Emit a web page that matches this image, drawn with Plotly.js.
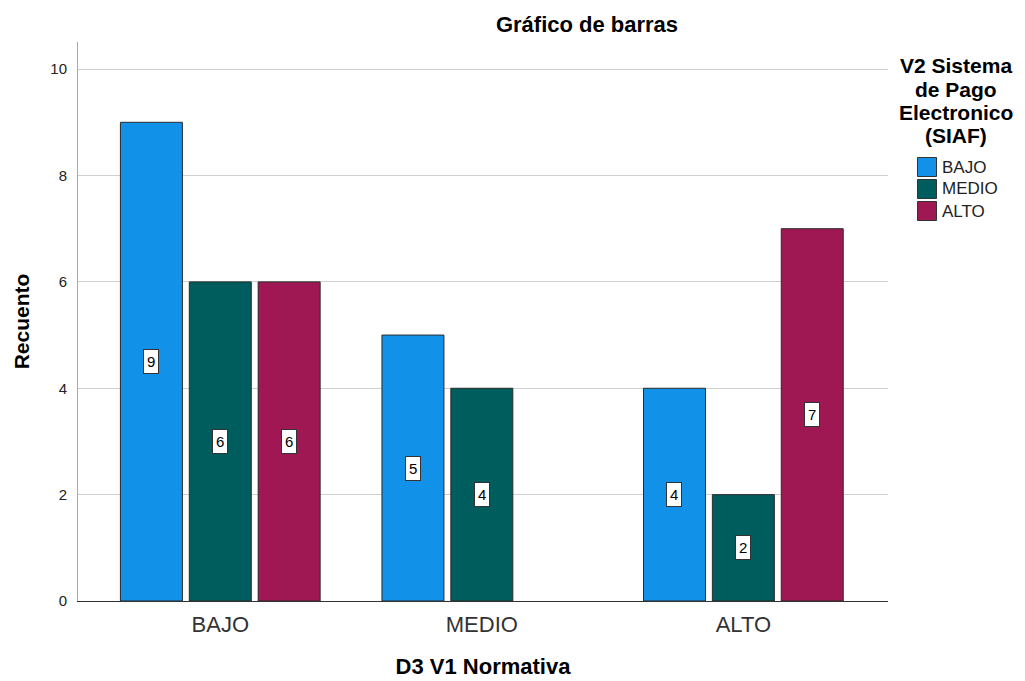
<!DOCTYPE html>
<html><head><meta charset="utf-8">
<script src="https://cdn.plot.ly/plotly-3.0.1.min.js"></script>
<style>body{margin:0;background:#fff}#c{width:1025px;height:681px}</style>
</head><body><div id="c"></div>
<script>
var categories = ['BAJO', 'MEDIO', 'ALTO'];
var seriesNames = ['BAJO', 'MEDIO', 'ALTO'];
var bajoValues = [9, 5, 4];
var medioValues = [6, 4, 2];
var altoValues = [6, null, 7];
var colors = ['#1192e8', '#005d5d', '#9f1853'];
var legendTitleLines = ['V2 Sistema', 'de Pago', 'Electronico', '(SIAF)'];

var FONT = 'Liberation Sans, Arial, sans-serif';
var L = 78, R = 888, T = 42, B = 601;
function px2x(p) { return (p - L) / (R - L); }
function px2y(p) { return (B - p) / (B - T); }

var allValues = [bajoValues, medioValues, altoValues];
var traces = allValues.map(function (vals, j) {
  return {
    type: 'bar', name: seriesNames[j], x: categories, y: vals,
    marker: {color: colors[j], line: {color: '#2a2a2a', width: 1}},
    hoverinfo: 'none', showlegend: false
  };
});

var bargap = 0.21, groupgap = 0.10;
var slot = (1 - bargap) / 3;
var annotations = [];
var shapes = [];
allValues.forEach(function (vals, j) {
  vals.forEach(function (v, i) {
    if (v === null) return;
    annotations.push({
      xref: 'x', yref: 'y', x: i + (j - 1) * slot, y: v / 2,
      text: String(v), showarrow: false,
      font: {family: FONT, size: 15, color: '#000'},
      bgcolor: '#ffffff', bordercolor: '#333333', borderwidth: 1, borderpad: 3
    });
  });
});
legendTitleLines.forEach(function (t, k) {
  annotations.push({
    xref: 'paper', yref: 'paper', x: px2x(956), y: px2y(66 + k * 23.3),
    xanchor: 'center', yanchor: 'middle', text: '<b>' + t + '</b>', showarrow: false,
    font: {family: FONT, size: 21, color: '#000'}
  });
});
seriesNames.forEach(function (n, j) {
  var cy = 167 + j * 22;
  shapes.push({
    type: 'rect', xref: 'paper', yref: 'paper', xsizemode: 'pixel', ysizemode: 'pixel',
    xanchor: px2x(927), yanchor: px2y(cy), x0: -9.5, x1: 9.5, y0: -9.5, y1: 9.5,
    fillcolor: colors[j], line: {color: '#333333', width: 1}
  });
  annotations.push({
    xref: 'paper', yref: 'paper', x: px2x(940), y: px2y(cy),
    xanchor: 'left', yanchor: 'middle', text: n, showarrow: false,
    font: {family: FONT, size: 17, color: '#222'}
  });
});

var layout = {
  width: 1025, height: 681,
  margin: {l: L, r: 1025 - R, t: T, b: 681 - B},
  paper_bgcolor: '#fff', plot_bgcolor: '#fff',
  barmode: 'group', bargap: bargap, bargroupgap: groupgap,
  showlegend: false,
  title: {text: '<b>Gráfico de barras</b>', x: 587 / 1025, xanchor: 'center',
    y: 1 - 24 / 681, yanchor: 'middle',
    font: {family: FONT, size: 22, color: '#000'}},
  xaxis: {type: 'category', range: [-0.544, 2.553], showgrid: false, zeroline: false,
    showline: true, linecolor: '#333', linewidth: 1, ticks: '', ticklabelstandoff: 4,
    tickfont: {family: FONT, size: 22, color: '#333'},
    title: {text: '<b>D3 V1 Normativa</b>', standoff: 22,
      font: {family: FONT, size: 22, color: '#000'}}},
  yaxis: {range: [0, 10.51], dtick: 2, showgrid: true, gridcolor: '#cfcfcf', gridwidth: 1,
    zeroline: false, showline: true, linecolor: '#aaaaaa', linewidth: 1, ticks: '',
    ticklabelstandoff: 7,
    tickfont: {family: FONT, size: 15, color: '#222'},
    title: {text: '<b>Recuento</b>', standoff: 14,
      font: {family: FONT, size: 21, color: '#000'}}},
  annotations: annotations,
  shapes: shapes
};
Plotly.newPlot('c', traces, layout, {staticPlot: true});
</script></body></html>
